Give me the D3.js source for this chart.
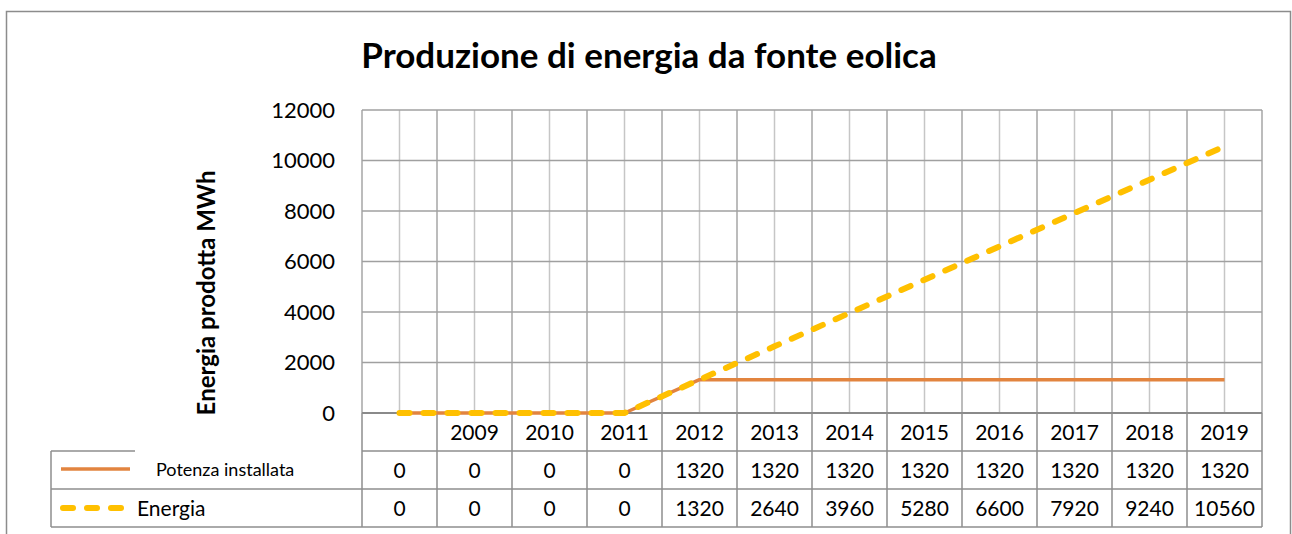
<!DOCTYPE html>
<html>
<head>
<meta charset="utf-8">
<script src="https://cdn.jsdelivr.net/npm/d3@7"></script>
<style>
  body { margin: 0; background: #fff; }
  text { font-family: Lato, "Open Sans", sans-serif; fill: #000; }
</style>
</head>
<body>
<script>
// dati
var categories = ["", "2009", "2010", "2011", "2012", "2013", "2014", "2015", "2016", "2017", "2018", "2019"]
var potenza = [0, 0, 0, 0, 1320, 1320, 1320, 1320, 1320, 1320, 1320, 1320]
var energia = [0, 0, 0, 0, 1320, 2640, 3960, 5280, 6600, 7920, 9240, 10560]
var yTicks = [0, 2000, 4000, 6000, 8000, 10000, 12000]
var seriesNames = ["Potenza installata", "Energia"]

var w = 1292
var h = 534

var svg = d3.select("body").append("svg")
   .attr("width", w)
   .attr("height", h)

var x = d3.scaleBand().domain(categories).range([362, 1262])
var y = d3.scaleLinear().domain([0, 12000]).range([413, 110])
var bw = x.bandwidth()

// cornice esterna
svg.append("rect")
   .attr("x", 6.5).attr("y", 11.5).attr("width", 1284).attr("height", 560)
   .attr("fill", "none").attr("stroke", "#8c8c8c").attr("stroke-width", 1.5)

// titolo
svg.append("text")
   .attr("x", 649).attr("y", 68)
   .attr("text-anchor", "middle")
   .style("font-size", "35px").style("font-weight", "bold")
   .text("Produzione di energia da fonte eolica")

// griglia verticale: linee minori al centro delle categorie
svg.append("g").selectAll("line").data(categories).join("line")
   .attr("x1", d => x(d) + bw / 2).attr("x2", d => x(d) + bw / 2)
   .attr("y1", y(12000)).attr("y2", y(0))
   .attr("stroke", "#c6c6c6").attr("stroke-width", 1.5)

// griglia verticale principale ai bordi delle categorie
var bounds = categories.map(d => x(d)).concat([x.range()[1]])
svg.append("g").selectAll("line").data(bounds).join("line")
   .attr("x1", d => d).attr("x2", d => d)
   .attr("y1", y(12000)).attr("y2", y(0))
   .attr("stroke", "#a6a6a6").attr("stroke-width", 1.5)

// griglia orizzontale
svg.append("g").selectAll("line").data(yTicks).join("line")
   .attr("x1", 362).attr("x2", 1262)
   .attr("y1", d => y(d)).attr("y2", d => y(d))
   .attr("stroke", "#a0a0a0").attr("stroke-width", 1.5)

// etichette asse y
var yAxis = svg.append("g").attr("transform", "translate(362,0)")
   .call(d3.axisLeft(y).tickValues(yTicks).tickSize(0).tickPadding(27).tickFormat(d3.format("d")))
yAxis.select(".domain").remove()
yAxis.selectAll("text").style("font-size", "22px").style("font-family", "Lato, sans-serif").attr("fill", "#000")

// titolo asse y
svg.append("text")
   .attr("transform", "translate(215,293) rotate(-90)")
   .attr("text-anchor", "middle")
   .style("font-size", "24px").style("font-weight", "bold")
   .text("Energia prodotta MWh")

// tabella dati
var rowY = [413, 451, 489, 527]
var tableColor = "#8e8e8e"
var tg = svg.append("g")
// linee orizzontali
tg.append("line").attr("x1", 362).attr("x2", 1262).attr("y1", rowY[0]).attr("y2", rowY[0])
   .attr("stroke", "#8a8a8a").attr("stroke-width", 2)
tg.append("line").attr("x1", 362).attr("x2", 1262).attr("y1", rowY[1]).attr("y2", rowY[1])
   .attr("stroke", tableColor).attr("stroke-width", 1.5)
tg.append("line").attr("x1", 51).attr("x2", 135).attr("y1", rowY[1]).attr("y2", rowY[1])
   .attr("stroke", tableColor).attr("stroke-width", 1.5)
tg.selectAll(".hr").data(rowY.slice(2)).join("line")
   .attr("x1", 51).attr("x2", 1262).attr("y1", d => d).attr("y2", d => d)
   .attr("stroke", tableColor).attr("stroke-width", 1.5)
// linee verticali
tg.selectAll(".vr").data(bounds).join("line")
   .attr("x1", d => d).attr("x2", d => d)
   .attr("y1", rowY[0]).attr("y2", rowY[3])
   .attr("stroke", tableColor).attr("stroke-width", 1.5)
tg.append("line").attr("x1", 51).attr("x2", 51).attr("y1", rowY[1]).attr("y2", rowY[3])
   .attr("stroke", tableColor).attr("stroke-width", 1.5)

// testi tabella
tg.selectAll(".cat").data(categories).join("text")
   .attr("x", d => x(d) + bw / 2).attr("y", (rowY[0] + rowY[1]) / 2 + 8)
   .attr("text-anchor", "middle").style("font-size", "21px")
   .text(d => d)
tg.selectAll(".pot").data(potenza).join("text")
   .attr("x", (d, i) => x(categories[i]) + bw / 2).attr("y", (rowY[1] + rowY[2]) / 2 + 8)
   .attr("text-anchor", "middle").style("font-size", "21px")
   .text(d => d)
tg.selectAll(".ene").data(energia).join("text")
   .attr("x", (d, i) => x(categories[i]) + bw / 2).attr("y", (rowY[2] + rowY[3]) / 2 + 8)
   .attr("text-anchor", "middle").style("font-size", "21px")
   .text(d => d)

// legenda nella tabella
tg.append("line").attr("x1", 61).attr("x2", 130).attr("y1", 469).attr("y2", 469)
   .attr("stroke", "#E2843F").attr("stroke-width", 3.5)
tg.append("text").attr("x", 156).attr("y", 476).style("font-size", "18px").text(seriesNames[0])
tg.append("line").attr("x1", 63).attr("x2", 127).attr("y1", 508).attr("y2", 508)
   .attr("stroke", "#FFC000").attr("stroke-width", 6).attr("stroke-linecap", "round")
   .attr("stroke-dasharray", "10,14")
tg.append("text").attr("x", 137).attr("y", 516).style("font-size", "21px").text(seriesNames[1])

// linee dei dati
var line = d3.line()
   .x((d, i) => x(categories[i]) + bw / 2)
   .y(d => y(d))

svg.append("path").datum(potenza)
   .attr("d", line).attr("fill", "none")
   .attr("stroke", "#E2843F").attr("stroke-width", 3.5).attr("stroke-linejoin", "round")

svg.append("path").datum(energia)
   .attr("d", line).attr("fill", "none")
   .attr("stroke", "#FFC000").attr("stroke-width", 6)
   .attr("stroke-linecap", "round").attr("stroke-dasharray", "10,14")
</script>
</body>
</html>
